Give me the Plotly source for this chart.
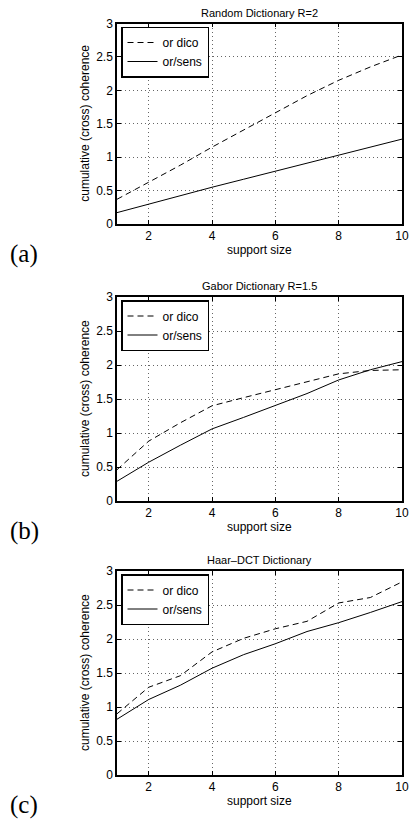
import plotly.graph_objects as go

support_size = [1, 2, 3, 4, 5, 6, 7, 8, 9, 10]

random_dico = [0.37, 0.62, 0.88, 1.15, 1.41, 1.67, 1.92, 2.15, 2.35, 2.53]
random_sens = [0.17, 0.30, 0.42, 0.55, 0.67, 0.79, 0.91, 1.03, 1.15, 1.27]

gabor_dico = [0.46, 0.88, 1.15, 1.40, 1.52, 1.64, 1.75, 1.87, 1.92, 1.93]
gabor_sens = [0.29, 0.57, 0.82, 1.06, 1.23, 1.40, 1.58, 1.78, 1.93, 2.05]

haar_dico = [0.90, 1.29, 1.46, 1.81, 2.01, 2.15, 2.26, 2.53, 2.61, 2.84]
haar_sens = [0.82, 1.11, 1.32, 1.57, 1.77, 1.93, 2.11, 2.24, 2.39, 2.55]

titles = ["Random Dictionary R=2", "Gabor Dictionary R=1.5", "Haar\u2013DCT Dictionary"]
panel_labels = ["(a)", "(b)", "(c)"]
series_names = ["or dico", "or/sens"]
x_ticks = [2, 4, 6, 8, 10]
y_ticks = [0, 0.5, 1, 1.5, 2, 2.5, 3]
y_tick_text = ["0", "0.5", "1", "1.5", "2", "2.5", "3"]

W, H = 409, 819
SANS = "Liberation Sans, Arial, Helvetica, sans-serif"
SERIF = "Liberation Serif, DejaVu Serif, serif"

# pixel geometry of each axes box (top, bottom)
boxes = [(23.5, 224.0), (297.0, 501.0), (571.0, 775.0)]
x_left, x_right = 117.0, 402.0

data = [(random_dico, random_sens), (gabor_dico, gabor_sens), (haar_dico, haar_sens)]

fig = go.Figure()
annotations = []
layout_axes = {}
legends = {}

for i, ((dico, sens), (top, bot)) in enumerate(zip(data, boxes)):
    k = "" if i == 0 else str(i + 1)
    xa, ya = "x" + k, "y" + k
    leg = "legend" + k
    fig.add_trace(go.Scatter(x=support_size, y=dico, mode="lines", name=series_names[0],
                             line=dict(color="black", width=1, dash="6px,4px"),
                             xaxis=xa, yaxis=ya, legend=leg))
    fig.add_trace(go.Scatter(x=support_size, y=sens, mode="lines", name=series_names[1],
                             line=dict(color="black", width=1),
                             xaxis=xa, yaxis=ya, legend=leg))
    dom_y = [1 - bot / H, 1 - top / H]
    dom_x = [x_left / W, x_right / W]
    common = dict(showline=True, linecolor="black", linewidth=1.5, mirror="ticks",
                  ticks="inside", ticklen=4, tickcolor="black", tickwidth=1,
                  showgrid=True, gridcolor="#666666", griddash="1px,3px", gridwidth=1,
                  zeroline=False, automargin=False,
                  tickfont=dict(family=SANS, size=12, color="black"))
    layout_axes["xaxis" + k] = dict(common, domain=dom_x, range=[1, 10], tickvals=x_ticks,
                                    anchor=ya)
    layout_axes["yaxis" + k] = dict(common, domain=dom_y, range=[0, 3], tickvals=y_ticks,
                                    ticktext=y_tick_text, anchor=xa)
    legends[leg] = dict(x=121 / W, y=1 - (top + 3) / H, xanchor="left", yanchor="top",
                        bgcolor="white", bordercolor="black", borderwidth=1.5,
                        font=dict(family=SANS, size=12, color="black"),
                        tracegroupgap=0, itemwidth=30)
    cx = (x_left + x_right) / 2 / W
    annotations.append(dict(text=titles[i], x=cx, y=1 - top / H, xref="paper", yref="paper",
                            xanchor="center", yanchor="bottom", yshift=3, showarrow=False,
                            font=dict(family=SANS, size=11, color="black")))
    annotations.append(dict(text="support size", x=cx, y=1 - (bot + 26) / H, xref="paper",
                            yref="paper", xanchor="center", yanchor="middle", showarrow=False,
                            font=dict(family=SANS, size=12, color="black")))
    annotations.append(dict(text="cumulative (cross) coherence", x=85 / W,
                            y=1 - (top + bot) / 2 / H, xref="paper", yref="paper",
                            xanchor="center", yanchor="middle", textangle=-90, showarrow=False,
                            font=dict(family=SANS, size=12, color="black")))
    annotations.append(dict(text=panel_labels[i], x=24 / W, y=1 - (bot + 30) / H,
                            xref="paper", yref="paper", xanchor="center", yanchor="middle",
                            showarrow=False, font=dict(family=SERIF, size=25, color="black")))

fig.update_layout(width=W, height=H, margin=dict(l=0, r=0, t=0, b=0),
                  paper_bgcolor="white", plot_bgcolor="white",
                  annotations=annotations, **layout_axes, **legends)

fig.write_html("out.html")
